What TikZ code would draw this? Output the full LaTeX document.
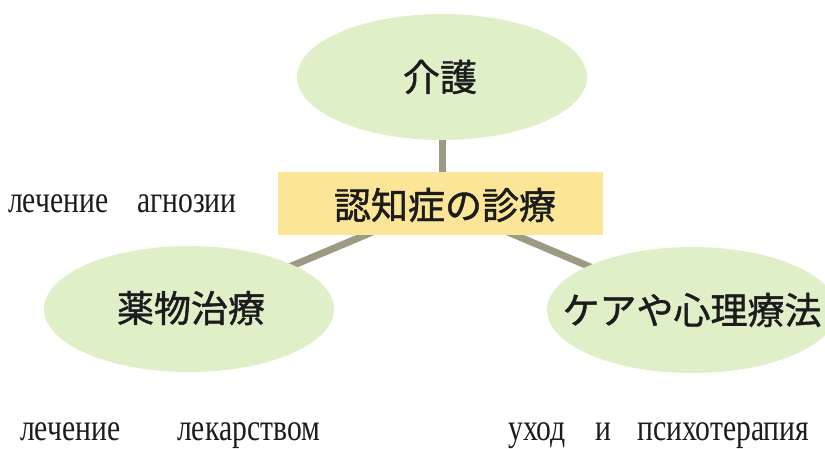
\documentclass[tikz,border=0pt]{standalone}
\usepackage{fontspec}
\newfontfamily\jp{Noto Sans CJK JP}[FakeBold=1.2]
\newfontfamily\ru{Liberation Serif}[FakeStretch=0.78]
\usetikzlibrary{shapes.geometric,backgrounds}
\definecolor{ellfill}{HTML}{DFF0C9}
\definecolor{boxfill}{HTML}{FBE597}
\definecolor{linkcol}{HTML}{9C9A82}
\definecolor{txtcol}{HTML}{1C1C1C}
\tikzset{
  bubble/.style={ellipse, fill=ellfill, minimum width=290pt, minimum height=126pt, inner sep=0pt},
  jplabel/.style={inner sep=0pt, text=txtcol, font=\jp\fontsize{37}{40}\selectfont},
  centerbox/.style={rectangle, fill=boxfill, minimum width=325pt, minimum height=63pt, inner sep=0pt},
  link/.style={draw=linkcol, line width=7pt},
  rutext/.style={anchor=base west, inner sep=0pt, text=txtcol, font=\ru\fontsize{38}{40}\selectfont}
}
\begin{document}
\begin{tikzpicture}[x=1pt,y=-1pt]
\useasboundingbox (0,0) rectangle (825,448);
\clip (0,0) rectangle (825,448);
\node[bubble] (top) at (442,77) {};
\node[centerbox] (center) at (440.5,203.5) {};
\node[bubble] (left) at (189,309) {};
\node[bubble] (right) at (692,310) {};
\node[jplabel] (topl) at (440,77) {介護};
\node[jplabel] (centerl) at (445,205) {認知症の診療};
\node[jplabel] (leftl) at (191,308) {薬物治療};
\node[jplabel] (rightl) at (692,310) {ケアや心理療法};
\begin{scope}[on background layer]
  \draw[link] (top.center) -- (top.center |- center.center);
  \draw[link] (center.center) -- (left.center);
  \draw[link] (center.center) -- (right.center);
\end{scope}
\node[rutext] (t1) at (8,212) {лечение};
\node[rutext] (t2) at (137,212) {агнозии};
\node[rutext] (b1) at (20,440) {лечение};
\node[rutext] (b2) at (177,440) {лекарством};
\node[rutext] (b3) at (508,440) {уход};
\node[rutext] (b4) at (595,440) {и};
\node[rutext] (b5) at (637,440) {психотерапия};
\end{tikzpicture}
\end{document}
